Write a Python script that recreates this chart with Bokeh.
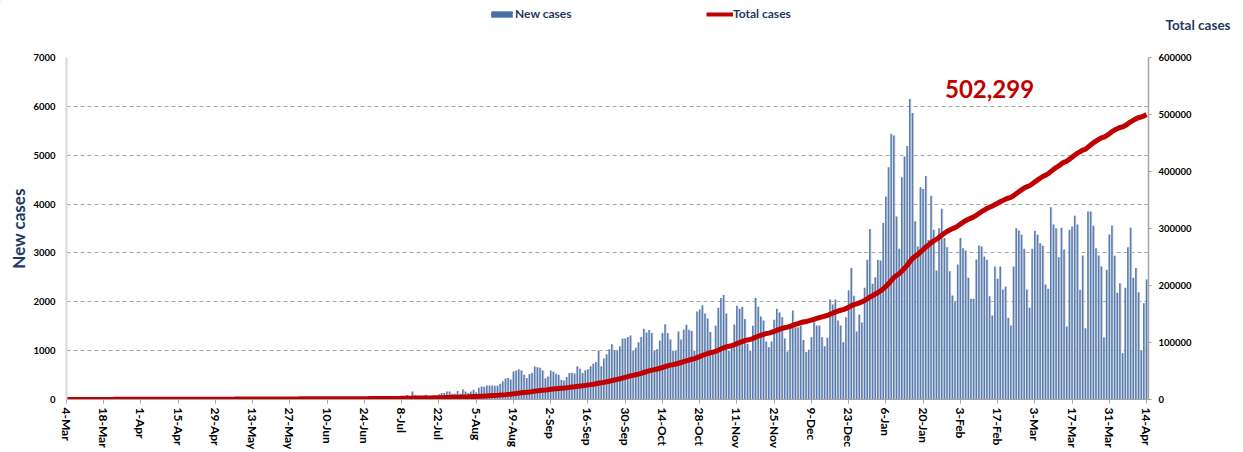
import math
import numpy as np
from bokeh.plotting import figure
from bokeh.layouts import column
from bokeh.models import (Range1d, LinearAxis, FixedTicker, Label,
                          ColumnDataSource, Legend, LegendItem, NumeralTickFormatter)
from bokeh.embed import file_html
from bokeh.resources import INLINE

# ---------------- data (daily new cases, 4-Mar-2020 .. 14-Apr-2021) ----------------
tick_labels = ["4-Mar", "18-Mar", "1-Apr", "15-Apr", "29-Apr", "13-May", "27-May", "10-Jun",
               "24-Jun", "8-Jul", "22-Jul", "5-Aug", "19-Aug", "2-Sep", "16-Sep", "30-Sep",
               "14-Oct", "28-Oct", "11-Nov", "25-Nov", "9-Dec", "23-Dec", "6-Jan", "20-Jan",
               "3-Feb", "17-Feb", "3-Mar", "17-Mar", "31-Mar", "14-Apr"]
tick_step_days = 14

new_mar20 = [2, 3, 3, 3, 4, 9, 11, 11, 7, 16, 16, 16, 21, 29, 9, 16, 14, 14, 29, 19, 17, 19, 13, 16,
             20, 18, 24, 21]
new_apr20 = [15, 14, 14, 19, 7, 14, 7, 7, 7, 10, 6, 1, 3, 7, 8, 17, 5, 4, 4, 4, 9, 9, 1, 11, 6, 6,
             1, 4, 4, 4]
new_may20 = [4, 4, 4, 13, 3, 4, 25, 10, 36, 34, 19, 5, 2, 12, 3, 25, 20, 6, 2, 9, 16, 9, 13, 47, 2,
             7, 10, 32, 24, 26, 43]
new_jun20 = [11, 13, 17, 12, 9, 16, 19, 7, 16, 7, 16, 12, 13, 20, 6, 5, 20, 11, 13, 22, 17, 13, 46,
             32, 37, 29, 20, 31, 24, 17]
new_jul20 = [30, 48, 55, 43, 62, 47, 41, 60, 59, 90, 60, 165, 80, 50, 75, 50, 95, 60, 50, 60, 60,
             110, 135, 135, 165, 165, 120, 120, 175, 120, 210]
new_aug20 = [165, 135, 165, 200, 150, 240, 265, 260, 285, 285, 285, 280, 280, 320, 375, 430, 440,
             410, 575, 595, 620, 595, 505, 440, 520, 550, 675, 660, 650, 595, 435]
new_sep20 = [470, 595, 570, 525, 505, 400, 390, 460, 540, 550, 530, 680, 630, 540, 600, 620, 680,
             730, 770, 1000, 680, 840, 925, 1030, 1130, 1010, 1010, 1090, 1250, 1250]
new_oct20 = [1280, 1310, 1000, 1060, 1170, 1280, 1450, 1370, 1420, 1360, 1000, 1030, 1210, 1360,
             1540, 1360, 1230, 1000, 1000, 1390, 1230, 1430, 1530, 1430, 1400, 1000, 1800, 1840,
             1930, 1760, 1660]
new_nov20 = [1380, 1000, 1510, 1880, 2080, 2140, 1760, 1000, 1100, 1535, 1917, 1855, 1900, 1650,
             1140, 1000, 1507, 2080, 1900, 1700, 1617, 1187, 1070, 1187, 1630, 1855, 1780, 1685,
             1250, 985]
new_dec20 = [1480, 1820, 1480, 1480, 1507, 1220, 970, 1020, 1275, 1582, 1515, 1515, 1275, 1090,
             1262, 2046, 1944, 2046, 1617, 1515, 1173, 1685, 2237, 2694, 2121, 1391, 1740, 1576,
             2285, 2858, 3492]
new_jan21 = [2367, 2503, 2858, 2845, 3615, 4154, 4754, 5437, 5402, 3745, 3083, 4550, 4973, 5191,
             6153, 5866, 3650, 3131, 4345, 4311, 4577, 3267, 4168, 3472, 2640, 3506, 3902, 3308,
             3117, 2626, 2128]
new_feb21 = [2012, 2762, 3308, 3097, 3049, 2490, 2060, 2060, 2865, 3151, 3131, 2926, 2858, 2114,
             1719, 2722, 2469, 2722, 2244, 2312, 1671, 1514, 2722, 3506, 3458, 3370, 3083, 2251]
new_mar21 = [1876, 3083, 3452, 3370, 3199, 3145, 2353, 2265, 3936, 3581, 3506, 2913, 3513, 3070,
             1494, 3472, 3540, 3759, 3581, 2244, 2947, 1460, 3847, 3847, 3554, 3097, 2947, 2722,
             1276, 2654, 3377]
new_apr21 = [3561, 2940, 2183, 2381, 948, 2285, 3117, 3513, 2490, 2694, 2196, 1003, 1971, 2456]

final_total_label = "502,299"

new_cases = (new_mar20 + new_apr20 + new_may20 + new_jun20 + new_jul20 + new_aug20 + new_sep20
             + new_oct20 + new_nov20 + new_dec20 + new_jan21 + new_feb21 + new_mar21 + new_apr21)
days = list(range(len(new_cases)))
total_cases = np.cumsum(new_cases)

src = ColumnDataSource(dict(day=days, new=new_cases, total=total_cases,
                            shadow_x=[d + 0.42 for d in days]))

tick_days = [i * tick_step_days for i in range(len(tick_labels))]

# ---------------- style ----------------
NAVY = "#1F3864"
RED = "#C00000"
BAR = "#5A7EB1"
FONT = "Lato"
W = 1243
HEAD_H = 45
MAIN_H = 407

# ---------------- header strip: legend + right-axis title ----------------
hdr = figure(width=W, height=HEAD_H, output_backend="svg", toolbar_location=None,
             x_range=Range1d(0, W), y_range=Range1d(HEAD_H, 0),
             x_axis_location=None, y_axis_location=None,
             min_border_left=0, min_border_right=0, min_border_top=0, min_border_bottom=0)
hdr.frame_align = False
hdr.outline_line_color = None
hdr.grid.grid_line_color = None
# legend sample glyphs (kept off-canvas; only their legend swatches show)
leg_bar = hdr.vbar(x=[-5000], top=[1], width=1, fill_color="#4A6FA5", line_color=None)
leg_line = hdr.line(x=[-5000, -4990], y=[1, 1], line_color=RED, line_width=4)
legend = Legend(items=[LegendItem(label="New cases", renderers=[leg_bar]),
                       LegendItem(label="Total cases", renderers=[leg_line])],
                orientation="horizontal", location=(488, 24),
                border_line_color=None, background_fill_alpha=0, padding=0, margin=0, spacing=0,
                glyph_width=27, glyph_height=8, label_standoff=0, label_width=191, label_height=14,
                label_text_font=FONT, label_text_font_style="bold", label_text_font_size="12px",
                label_text_color=NAVY)
hdr.add_layout(legend, "center")
hdr.add_layout(Label(x=1165, y=24, text="Total cases", text_align="left", text_baseline="middle",
                     text_font=FONT, text_font_style="bold", text_font_size="13.5px",
                     text_color=NAVY))

# ---------------- main chart ----------------
n_last = days[-1]
p = figure(width=W, height=MAIN_H, output_backend="svg", toolbar_location=None,
           x_range=Range1d(0, n_last + 0.75), y_range=Range1d(0, 7000),
           min_border_left=66, min_border_right=95, min_border_top=12, min_border_bottom=53,
           background_fill_color="white", border_fill_color="white")
p.frame_align = False
p.outline_line_color = None
p.extra_y_ranges = {"total": Range1d(0, 600000)}

p.xgrid.grid_line_color = None
p.ygrid.grid_line_color = "#A6A6A6"
p.ygrid.grid_line_dash = "4 3"
p.ygrid.grid_line_width = 1

ya = p.yaxis[0]
ya.ticker = FixedTicker(ticks=list(range(0, 7001, 1000)))
ya.axis_line_color = "#D9D9D9"
ya.axis_line_width = 2
ya.major_tick_line_color = None
ya.major_tick_out = 0
ya.major_tick_in = 0
ya.minor_tick_line_color = None
ya.major_label_standoff = 11
ya.major_label_text_font = FONT
ya.major_label_text_font_style = "bold"
ya.major_label_text_font_size = "9.5px"
ya.major_label_text_color = "black"
ya.axis_label = "New cases"
ya.axis_label_standoff = 1
ya.axis_label_text_font = FONT
ya.axis_label_text_font_style = "bold"
ya.axis_label_text_font_size = "17px"
ya.axis_label_text_color = NAVY

ra = LinearAxis(y_range_name="total", ticker=FixedTicker(ticks=list(range(0, 600001, 100000))),
                formatter=NumeralTickFormatter(format="0"))
ra.axis_line_color = "#A6A6A6"
ra.axis_line_width = 1.5
ra.major_tick_line_color = "#A6A6A6"
ra.major_tick_out = 3
ra.major_tick_in = 0
ra.minor_tick_line_color = None
ra.major_label_standoff = 7
ra.major_label_text_font = FONT
ra.major_label_text_font_style = "bold"
ra.major_label_text_font_size = "9.5px"
ra.major_label_text_color = "black"
p.add_layout(ra, "right")

xa = p.xaxis[0]
xa.ticker = FixedTicker(ticks=tick_days)
xa.major_label_overrides = {d: lab for d, lab in zip(tick_days, tick_labels)}
xa.major_label_orientation = -math.pi / 2
xa.axis_line_color = "#A6A6A6"
xa.major_tick_line_color = "#A6A6A6"
xa.major_tick_out = 4
xa.major_tick_in = 0
xa.minor_tick_line_color = None
xa.major_label_standoff = 4
xa.major_label_text_font = FONT
xa.major_label_text_font_style = "bold"
xa.major_label_text_font_size = "12px"
xa.major_label_text_color = "black"

p.vbar(x="shadow_x", top="new", width=0.38, source=src, fill_color="#D3D7DE", line_color=None)
p.vbar(x="day", top="new", width=0.6, source=src, fill_color=BAR, line_color=None)
p.line(x="day", y="total", source=src, y_range_name="total", line_color=RED, line_width=5)

p.add_layout(Label(x=347, y=6365, text=final_total_label, text_align="center",
                   text_baseline="middle", text_font=FONT, text_font_style="bold",
                   text_font_size="24px", text_color=RED))

layout = column(hdr, p, spacing=0)
open("out.html", "w").write(file_html(layout, INLINE))
